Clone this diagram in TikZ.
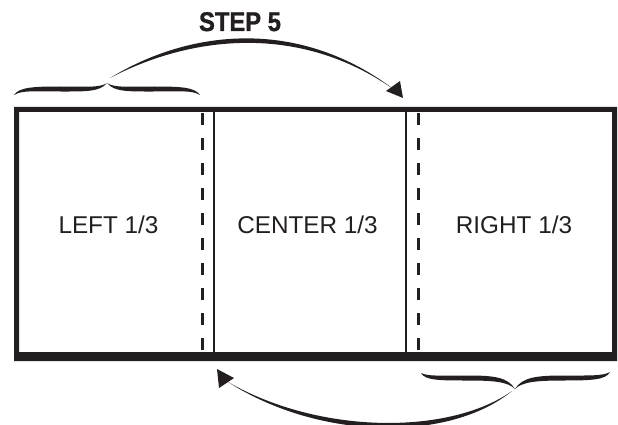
\documentclass[tikz,border=0pt]{standalone}
\usepackage{fontspec}
\setmainfont{Liberation Sans}
\newfontfamily\heavyfont{Liberation Sans Bold}[FakeBold=1.2]
\begin{document}
\begin{tikzpicture}[x=1pt,y=-1pt]
\definecolor{ink}{RGB}{35,31,32}
\tikzset{
  lbl/.style={anchor=base,inner sep=0pt,text=ink,font=\fontsize{24.3}{28}\selectfont},
  title/.style={anchor=base,inner sep=0pt,text=ink,font=\heavyfont\fontsize{27}{30}\selectfont},
  fold/.style={ink,line width=2.6pt},
  cut/.style={ink,line width=3pt,dash pattern=on 12pt off 13pt},
  taper/.style={fill=ink,draw=none}
}
\useasboundingbox (0,0) rectangle (618,425);
% outer frame
\fill[ink,even odd rule] (14,107) rectangle (617,361) (19,112) rectangle (612,352);
% fold lines
\draw[fold] (214,112) -- (214,352);
\draw[fold] (406,112) -- (406,352);
% dashed lines
\draw[cut] (202,113) -- (202,352);
\draw[cut] (418,113) -- (418,352);
% labels
\node[lbl] (left) at (108.5,233) {LEFT 1/3};
\node[lbl] (center) at (307.5,233) {CENTER 1/3};
\node[lbl] (right) at (514,233) {RIGHT 1/3};
\node[title] (step) at (240,31) {\scalebox{0.88}[1]{STEP 5}};
% top brace
\coordinate (ttip) at (107,83);
\fill[taper] (14,95) .. controls (19,87) and (35,86.5) .. (60,86.5) .. controls (85,86.5) and (100,88) .. (ttip)
  .. controls (100,92) and (85,91.5) .. (60,91.5) .. controls (35,91.5) and (22,90) .. (14,95) -- cycle;
\fill[taper] (200,95) .. controls (195,87) and (179,86.5) .. (154,86.5) .. controls (129,86.5) and (114,88) .. (ttip)
  .. controls (114,92) and (129,91.5) .. (154,91.5) .. controls (179,91.5) and (192,90) .. (200,95) -- cycle;
% bottom brace
\coordinate (btip) at (515,389);
\fill[taper] (421,373) .. controls (425,380.5) and (440,380.5) .. (468,380.5) .. controls (495,380.5) and (508,382) .. (btip)
  .. controls (508,377.5) and (495,375.5) .. (468,375.5) .. controls (440,375.5) and (428,376.5) .. (421,373) -- cycle;
\fill[taper] (610,372) .. controls (606,380) and (591,380.5) .. (563,380.5) .. controls (536,380.5) and (522,382) .. (btip)
  .. controls (522,377.5) and (536,375.5) .. (563,375.5) .. controls (591,375.5) and (603,376) .. (610,372) -- cycle;
% top arrow
\coordinate (tstart) at (110,78);
\coordinate (tend) at (396,91);
\fill[taper] (tstart) .. controls (190,29) and (300,17) .. (tend) .. controls (300,22) and (190,36) .. (tstart) -- cycle;
\coordinate (thead) at (403,98);
\fill[taper] (thead) -- (400,81) -- (386,91) -- cycle;
% bottom arrow
\coordinate (bstart) at (512,391);
\coordinate (bend) at (228,382);
\fill[taper] (bstart) .. controls (450,442) and (320,441) .. (bend) .. controls (320,435) and (450,435) .. (bstart) -- cycle;
\coordinate (bhead) at (217,369);
\fill[taper] (bhead) -- (234,378) -- (219,388) -- cycle;
\end{tikzpicture}
\end{document}
